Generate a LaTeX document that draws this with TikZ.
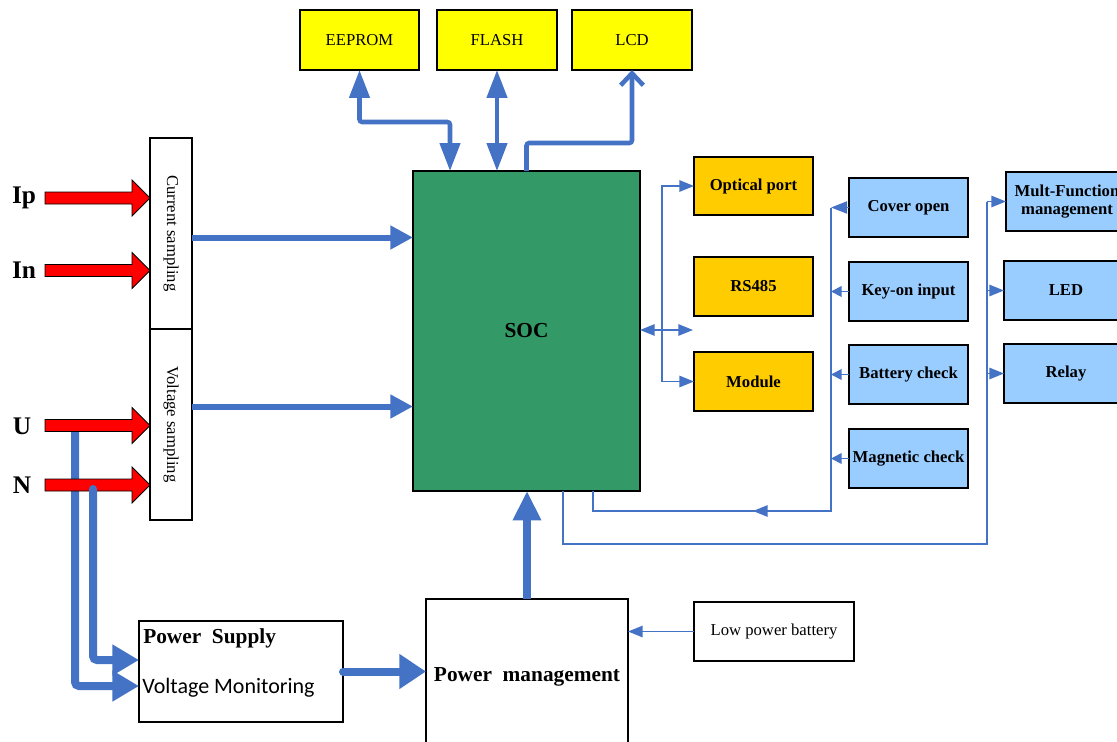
\documentclass[tikz,border=0pt]{standalone}
\usepackage{fontspec}
\setmainfont{Liberation Serif}
\newfontfamily\calibrifont{Carlito}
\usetikzlibrary{arrows.meta,calc}

\definecolor{memyellow}{HTML}{FFFF00}
\definecolor{portorange}{HTML}{FFCC00}
\definecolor{sensblue}{HTML}{99CCFF}
\definecolor{socgreen}{HTML}{339966}
\definecolor{linkblue}{HTML}{4472C4}
\definecolor{feedred}{HTML}{FF0000}

\tikzset{
  box/.style={draw=black, line width=1.1pt, inner sep=0pt, outer sep=0pt, align=center,
              font=\fontsize{12.5}{14}\selectfont},
  mem/.style={box, fill=memyellow},
  port/.style={box, fill=portorange, font=\bfseries\fontsize{12.5}{14}\selectfont},
  sens/.style={box, fill=sensblue, font=\bfseries\fontsize{12.5}{14}\selectfont},
  socbox/.style={box, fill=socgreen, font=\bfseries\fontsize{16}{18}\selectfont},
  lbl/.style={inner sep=0pt, font=\bfseries\fontsize{19}{21}\selectfont},
  bus/.style={draw=linkblue, line width=4.5pt},
  membus/.style={draw=linkblue, line width=3.4pt, rounded corners=2pt},
  power/.style={draw=linkblue, line width=6pt, rounded corners=3pt},
  thinlink/.style={draw=linkblue, line width=1.4pt},
  redarr/.style={fill=feedred, draw=black, line width=0.6pt},
  bigtip/.tip={Triangle[length=17pt,width=17pt]},
  memtip/.tip={Triangle[length=21pt,width=15pt]},
  pwtip/.tip={Triangle[length=20pt,width=22pt]},
  smalltip/.tip={Triangle[length=11pt,width=8.5pt]},
  sentip/.tip={Triangle[length=8pt,width=8pt]}
}

% box from pixel corners (x1,y1)-(x2,y2)
\newcommand\bx[7]{\node[#6, minimum width={(#4-#2)*0.75pt}, minimum height={(#5-#3)*0.75pt}]
  (#1) at ({(#2+#4)/2},{(#3+#5)/2}) {#7};}
% red input arrow starting at a coordinate
\newcommand\feed[1]{\filldraw[redarr] ($(#1)+(0,-6)$) -- ++(87,0) -- ++(0,-12) -- ++(18,18)
  -- ++(-18,18) -- ++(0,-12) -- ++(-87,0) -- cycle;}

\begin{document}
\begin{tikzpicture}[x=0.75pt,y=-0.75pt]
\useasboundingbox (0,0) rectangle (1117,742);
\clip (0,0) rectangle (1117,742);

% memories and display
\bx{eeprom}{300}{10}{419}{70}{mem}{EEPROM}
\bx{flash}{437}{10}{557}{70}{mem}{FLASH}
\bx{lcd}{572}{10}{692}{70}{mem}{LCD}

% processor
\bx{soc}{413}{171}{640}{491}{socbox}{SOC}

% sampling front end
\bx{cs}{150}{138}{192}{329}{box}{}
\bx{vs}{150}{329}{192}{520}{box}{}
\node[rotate=-90, font=\fontsize{12.5}{14}\selectfont] (cstext) at (cs.center) {Current sampling};
\node[rotate=-90, font=\fontsize{12.5}{14}\selectfont] (vstext) at (vs.center) {Voltage sampling};

% communication ports
\bx{opt}{694}{157}{813}{215}{port}{Optical port}
\bx{rs}{694}{257}{813}{316}{port}{RS485}
\bx{mod}{694}{352}{813}{411}{port}{Module}

% sensors
\bx{cover}{849}{178}{968}{237}{sens}{Cover open}
\bx{key}{849}{262}{968}{321}{sens}{Key-on input}
\bx{bat}{849}{345}{968}{404}{sens}{Battery check}
\bx{mag}{849}{429}{968}{488}{sens}{Magnetic check}

% outputs
\bx{mf}{1006}{172}{1128}{231}{sens}{Mult-Function\\management}
\bx{led}{1004}{261}{1128}{320}{sens}{LED}
\bx{relay}{1004}{344}{1128}{403}{sens}{Relay}

% power section
\bx{ps}{139}{621}{343}{722}{box}{}
\node[anchor=west, inner sep=0pt, font=\bfseries\fontsize{16}{18}\selectfont] (pstitle) at (143,638) {Power\ \ Supply};
\node[anchor=west, inner sep=0pt, font=\calibrifont\fontsize{16.5}{18}\selectfont] (psmon) at (142,688) {Voltage Monitoring};
\bx{pm}{426}{599}{628}{755}{box, font=\bfseries\fontsize{16}{18}\selectfont}{Power\ \ management}
\bx{lpb}{694}{602}{854}{661}{box}{Low power battery}

% input labels
\node[lbl] (ip) at (24,198) {Ip};
\node[lbl] (in) at (24,270) {In};
\node[lbl] (u) at (22,426) {U};
\node[lbl] (n) at (22,485) {N};
\coordinate (ipA) at (45,198);
\coordinate (inA) at (45,270.5);
\coordinate (uA) at (45,425.5);
\coordinate (nA) at (45,485);

% supply taps from U and N
\draw[power, -{pwtip}] ($(uA)+(30,6)$) |- ($(ps.west)+(0,14.5)$);
\feed{ipA}
\feed{inA}
\feed{uA}
\feed{nA}
\draw[power, line cap=round, -{pwtip}] ($(nA)+(48,4)$) |- ($(ps.west)+(0,-11.5)$);

% sampling to SOC
\coordinate (csout) at ($(cs.east)+(0,4)$);
\coordinate (vsout) at ($(vs.east)+(0,-18)$);
\draw[bus, -{bigtip}] (csout) -- (csout -| soc.west);
\draw[bus, -{bigtip}] (vsout) -- (vsout -| soc.west);

% memory and display links
\coordinate (socE) at ($(soc.north)+(-76.5,0)$);
\draw[membus, {memtip}-{memtip}] (eeprom.south) -- ++(0,52) -| (socE);
\draw[membus, {memtip}-{memtip}] (flash.south) -- (flash.south |- soc.north);
\draw[membus, -{Straight Barb[length=9pt,width=17pt]}] (soc.north) -- ++(0,-28) -| (lcd.south);

% port links
\coordinate (sp) at ($(soc.east)+(0,-1)$);
\coordinate (pj) at ($(soc.east)+(22,-1)$);
\draw[thinlink, {smalltip}-{smalltip}] (sp) -- ++(53,0);
\draw[thinlink, -{smalltip}] (pj) |- (opt.west);
\draw[thinlink, -{smalltip}] (pj) |- (mod.west);

% sensor links
\coordinate (sx) at ($(cover.west)+(-18,0)$);
\coordinate (sb) at ($(soc.south)+(66.5,0)$);
\coordinate (sbot) at ($(sb)+(0,20)$);
\draw[thinlink, -{Triangle[length=12pt,width=9pt]}] (cover.west) -- (sx);
\draw[thinlink, -{sentip}] (key.west) -- (key.west -| sx);
\draw[thinlink, -{sentip}] (bat.west) -- (bat.west -| sx);
\draw[thinlink, -{sentip}] (mag.west) -- (mag.west -| sx);
\draw[thinlink] (sx) -- (sx |- sbot) -- (sbot) -- (sb);
\draw[thinlink, -{smalltip}] (sx |- sbot) -- ++(-78,0);

% output links
\coordinate (mb) at ($(soc.south)+(36.5,0)$);
\coordinate (mbot) at ($(mb)+(0,53)$);
\coordinate (mx) at ($(mf.west)+(-19,0)$);
\draw[thinlink] (mb) -- (mbot) -- (mbot -| mx) -- (mx);
\draw[thinlink, -{smalltip}] (mx) -- (mf.west);
\draw[thinlink, -{smalltip}] (led.west -| mx) -- (led.west);
\draw[thinlink, -{smalltip}] (relay.west -| mx) -- (relay.west);

% power links
\draw[power, -{Triangle[length=22pt,width=20pt]}] (pm.north) -- (pm.north |- soc.south);
\draw[power, line cap=round, -{Triangle[length=20pt,width=25pt]}] (ps.east) -- (ps.east -| pm.west);
\draw[thinlink, -{smalltip}] (lpb.west) -- (lpb.west -| pm.east);
\end{tikzpicture}
\end{document}
